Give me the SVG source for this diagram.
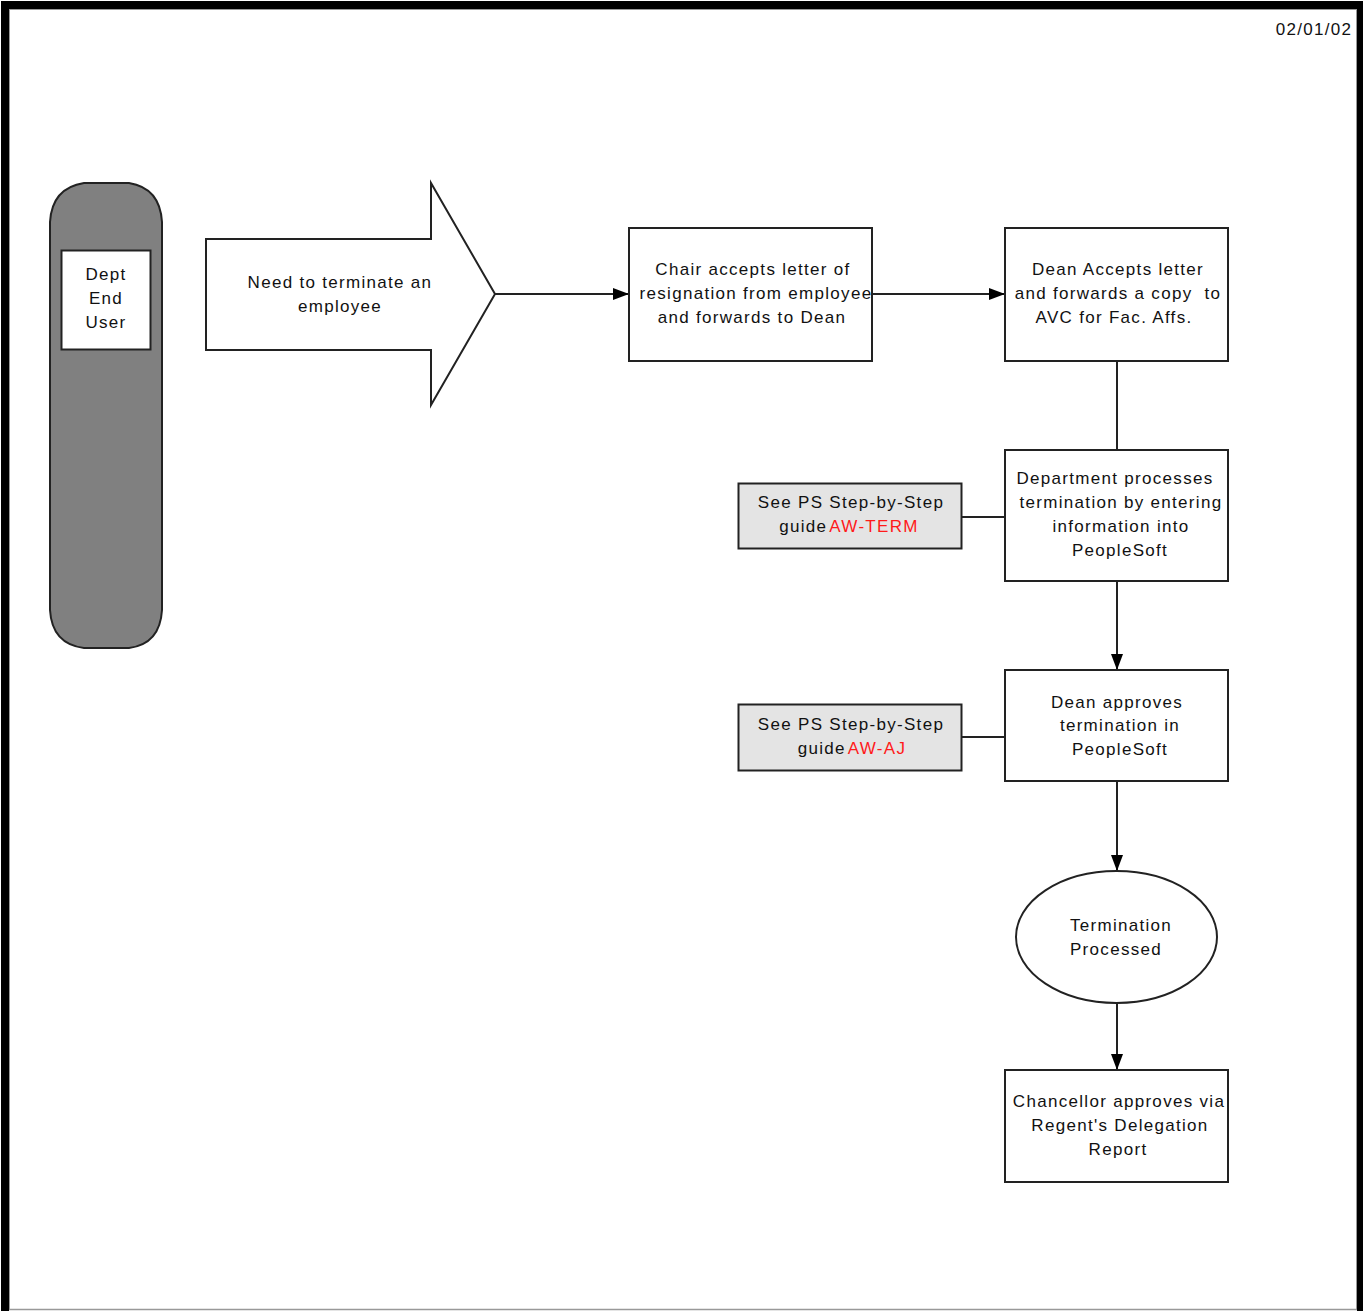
<svg xmlns="http://www.w3.org/2000/svg" width="1364" height="1311" viewBox="0 0 1364 1311">
<defs>
<style>
.t{font-family:"Liberation Sans",Arial,sans-serif;font-size:17px;letter-spacing:1.3px;fill:#111;text-anchor:middle}
.box{fill:#fff;stroke:#222;stroke-width:2}
.gbox{fill:#e4e4e4;stroke:#222;stroke-width:2}
.ln{stroke:#222;stroke-width:2;fill:none}
.red{fill:#ff1a1a}
</style>
<marker id="ah" markerUnits="userSpaceOnUse" markerWidth="20" markerHeight="20" refX="16" refY="7" orient="auto">
<path d="M0,1 L16,7 L0,13 Z" fill="#000"/>
</marker>
</defs>
<rect x="0" y="0" width="1364" height="1311" fill="#fff"/>
<g id="frame">
<rect x="1" y="1" width="1362" height="8" fill="#000"/>
<rect x="1" y="1" width="8" height="1310" fill="#000"/>
<rect x="1357" y="1" width="6" height="1310" fill="#000"/>
<line x1="9" y1="9.5" x2="1357" y2="9.5" stroke="#999" stroke-width="1"/>
<line x1="9.5" y1="9" x2="9.5" y2="1310" stroke="#999" stroke-width="1"/>
<line x1="1356.5" y1="9" x2="1356.5" y2="1310" stroke="#999" stroke-width="1"/>
<line x1="9" y1="1309.5" x2="1357" y2="1309.5" stroke="#999" stroke-width="1.5"/>
</g>
<g id="date"><text class="t" x="1314" y="35">02/01/02</text></g>
<g id="lane">
<path d="M84,183 L129,183 Q160,188 162,222 L162,610 Q160,644 129,648 L84,648 Q52,644 50,610 L50,222 Q52,188 84,183 Z" fill="#808080" stroke="#222" stroke-width="2"/>
<rect class="box" x="61.5" y="250.5" width="89" height="99"/>
<text class="t" x="106" y="280">Dept</text>
<text class="t" x="106" y="304">End</text>
<text class="t" x="106" y="328">User</text>
</g>
<g id="start">
<polygon points="206,239 431,239 431,183 495,294 431,405 431,350 206,350" fill="#fff" stroke="#222" stroke-width="2"/>
<text class="t" x="340" y="288">Need to terminate an</text>
<text class="t" x="340" y="312">employee</text>
</g>
<g id="connectors">
<line class="ln" x1="495" y1="294" x2="629" y2="294" marker-end="url(#ah)"/>
<line class="ln" x1="872" y1="294" x2="1005" y2="294" marker-end="url(#ah)"/>
<line class="ln" x1="1117" y1="361" x2="1117" y2="450"/>
<line class="ln" x1="961" y1="517" x2="1005" y2="517"/>
<line class="ln" x1="1117" y1="581" x2="1117" y2="670" marker-end="url(#ah)"/>
<line class="ln" x1="961" y1="737" x2="1005" y2="737"/>
<line class="ln" x1="1117" y1="781" x2="1117" y2="871" marker-end="url(#ah)"/>
<line class="ln" x1="1117" y1="1003" x2="1117" y2="1070" marker-end="url(#ah)"/>
</g>
<g id="chair">
<rect class="box" x="629" y="228" width="243" height="133"/>
<text class="t" x="753" y="275">Chair accepts letter of</text>
<text class="t" x="756" y="299">resignation from employee</text>
<text class="t" x="752" y="323">and forwards to Dean</text>
</g>
<g id="dean">
<rect class="box" x="1005" y="228" width="223" height="133"/>
<text class="t" x="1118" y="275">Dean Accepts letter</text>
<text class="t" x="1118" y="299" xml:space="preserve">and forwards a copy  to</text>
<text class="t" x="1114" y="323">AVC for Fac. Affs.</text>
</g>
<g id="dept">
<rect class="box" x="1005" y="450" width="223" height="131"/>
<text class="t" x="1115" y="484">Department processes</text>
<text class="t" x="1121" y="508">termination by entering</text>
<text class="t" x="1121" y="532">information into</text>
<text class="t" x="1120" y="556">PeopleSoft</text>
</g>
<g id="guide1">
<rect class="gbox" x="738.5" y="483.5" width="223" height="65"/>
<text class="t" x="851" y="508">See PS Step-by-Step</text>
<text class="t" x="849" y="532">guide<tspan class="red" dx="2">AW-TERM</tspan></text>
</g>
<g id="deanapp">
<rect class="box" x="1005" y="670" width="223" height="111"/>
<text class="t" x="1117" y="708">Dean approves</text>
<text class="t" x="1120" y="731">termination in</text>
<text class="t" x="1120" y="755">PeopleSoft</text>
</g>
<g id="guide2">
<rect class="gbox" x="738.5" y="704.5" width="223" height="66"/>
<text class="t" x="851" y="730">See PS Step-by-Step</text>
<text class="t" x="852" y="754">guide<tspan class="red" dx="2">AW-AJ</tspan></text>
</g>
<g id="processed">
<ellipse cx="1116.5" cy="937" rx="100.5" ry="66" fill="#fff" stroke="#222" stroke-width="2"/>
<text class="t" x="1121" y="931">Termination</text>
<text class="t" x="1116" y="955">Processed</text>
</g>
<g id="chancellor">
<rect class="box" x="1005" y="1070" width="223" height="112"/>
<text class="t" x="1119" y="1107">Chancellor approves via</text>
<text class="t" x="1120" y="1131">Regent's Delegation</text>
<text class="t" x="1118" y="1155">Report</text>
</g>
</svg>
